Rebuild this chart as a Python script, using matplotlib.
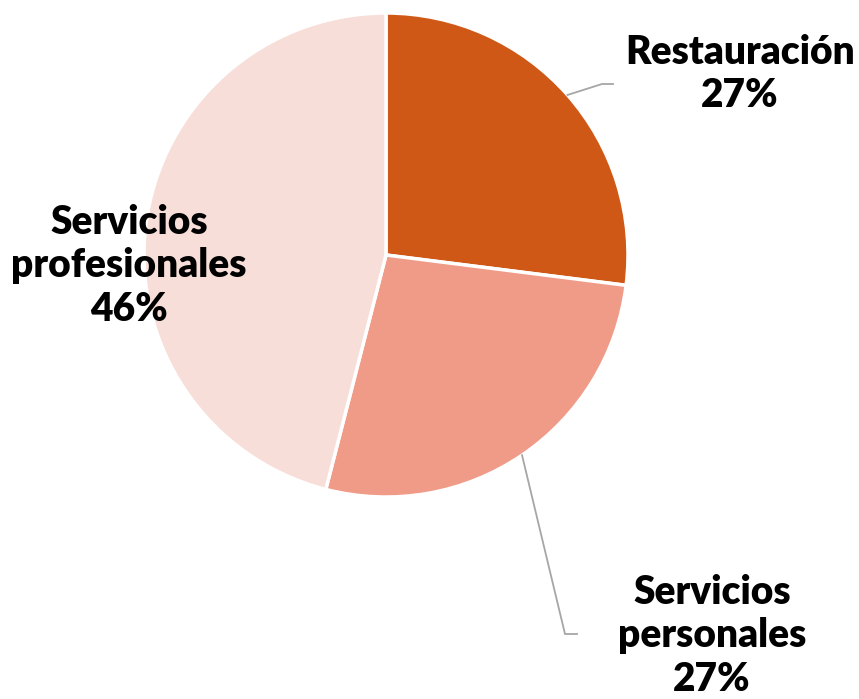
import numpy as np
import matplotlib.pyplot as plt

# cuota por sector (%)
sectores = ["Restauración", "Servicios\npersonales", "Servicios\nprofesionales"]
porcentajes = [27, 27, 46]
colores = ["#D05817", "#F09B87", "#F8DED8"]

fig = plt.figure(figsize=(8.59, 6.99), dpi=100)
ax = fig.add_axes([0, 0, 1, 1])

centro = (386, 444)
radio = 242
wedges, _ = ax.pie(porcentajes, colors=colores, startangle=90,
                   counterclock=False, center=centro, radius=radio,
                   frame=True,
                   wedgeprops=dict(edgecolor="white", linewidth=2.5))
ax.set_xlim(0, 859)
ax.set_ylim(0, 699)
ax.set_aspect("equal")
ax.axis("off")

# posicion de las etiquetas y codo de la linea guia (None = sin linea)
etiquetas_xy = [(740, 625), (712, 63), (129, 433)]
codos = [((602, 615), (613, 615)), ((565, 65), (577, 65)), None]

fuente = dict(family=["Lato", "DejaVu Sans"], weight="heavy", fontsize=28)

for w, nombre, p, xy, codo in zip(wedges, sectores, porcentajes, etiquetas_xy, codos):
    ax.text(xy[0], xy[1], f"{nombre}\n{p}%", ha="center", va="center",
            multialignment="center", linespacing=1.22, color="black", **fuente)
    if codo is not None:
        ang = np.deg2rad((w.theta1 + w.theta2) / 2)
        x0 = centro[0] + radio * np.cos(ang)
        y0 = centro[1] + radio * np.sin(ang)
        xs = [x0, codo[0][0], codo[1][0]]
        ys = [y0, codo[0][1], codo[1][1]]
        ax.plot(xs, ys, color="#A6A6A6", linewidth=1.3, solid_joinstyle="miter")

fig.savefig("out.png", dpi=100)
